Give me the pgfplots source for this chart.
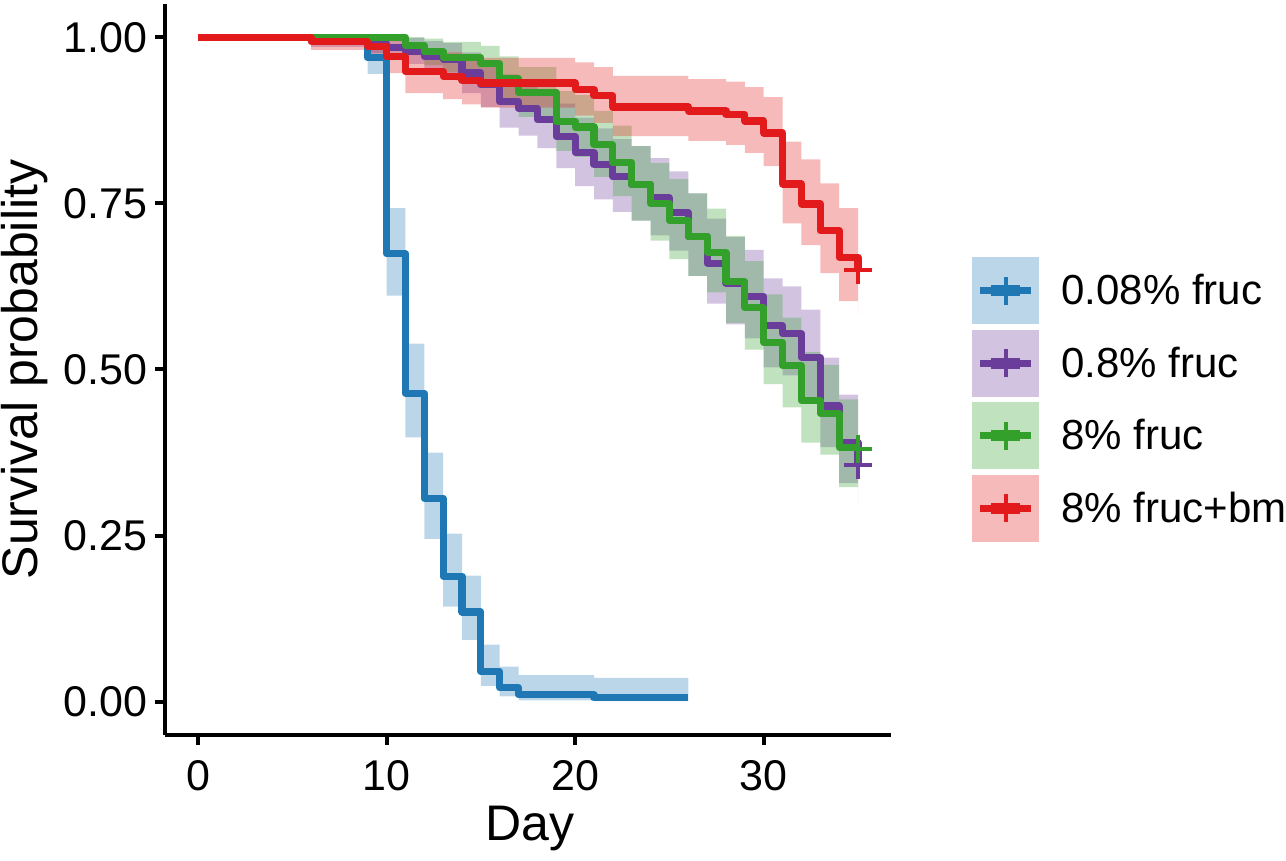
\documentclass[border=0pt]{standalone}
\usepackage{fontspec}
\setmainfont{Liberation Sans}
\usepackage{pgfplots}
\pgfplotsset{compat=1.18}
\usepackage{pgfplotstable}
\usepgfplotslibrary{fillbetween}
\definecolor{cB}{HTML}{1F78B4}
\definecolor{cP}{HTML}{6A3D9A}
\definecolor{cG}{HTML}{33A02C}
\definecolor{cR}{HTML}{E31A1C}
\pgfplotstableread{
t s lo hi
0 1 1 1
9 0.969 0.945 0.994
10 0.674 0.611 0.743
11 0.464 0.398 0.539
12 0.306 0.245 0.375
13 0.189 0.143 0.253
14 0.135 0.093 0.190
15 0.046 0.024 0.086
16 0.021 0.008 0.053
17 0.0105 0.002 0.040
21 0.006 0.001 0.036
26 0.006 0.001 0.036
}\tabB
\pgfplotstableread{
t s lo hi
0 1 1 1
6 0.995 0.9855 1
9 0.990 0.9766 1
10 0.985 0.9687 1
11 0.979 0.960 0.999
12 0.971 0.949 0.994
13 0.966 0.942 0.991
14 0.946 0.916 0.977
15 0.929 0.895 0.964
16 0.903 0.864 0.944
17 0.893 0.852 0.936
18 0.876 0.833 0.922
19 0.850 0.803 0.900
20 0.826 0.776 0.879
21 0.808 0.756 0.863
22 0.790 0.737 0.847
23 0.778 0.724 0.836
24 0.758 0.702 0.818
25 0.736 0.679 0.798
26 0.700 0.641 0.765
27 0.660 0.599 0.727
28 0.630 0.568 0.699
29 0.610 0.547 0.680
30 0.566 0.503 0.637
31 0.554 0.491 0.625
32 0.518 0.455 0.590
33 0.445 0.383 0.518
34 0.390 0.329 0.462
35 0.357 0.298 0.428
}\tabP
\pgfplotstableread{
t s lo hi
0 1 1 1
11 0.988 0.973 1
12 0.978 0.958 0.998
13 0.970 0.947 0.993
15 0.960 0.934 0.987
16 0.938 0.906 0.971
17 0.917 0.880 0.955
19 0.873 0.829 0.919
20 0.865 0.820 0.913
21 0.838 0.790 0.889
22 0.812 0.761 0.867
23 0.778 0.724 0.836
24 0.750 0.694 0.811
25 0.724 0.666 0.787
26 0.700 0.641 0.765
27 0.676 0.616 0.742
28 0.632 0.570 0.701
29 0.593 0.530 0.663
30 0.541 0.478 0.613
31 0.506 0.443 0.578
32 0.453 0.390 0.526
33 0.434 0.372 0.507
34 0.383 0.323 0.455
35 0.383 0.323 0.455
}\tabG
\pgfplotstableread{
t s lo hi
0 1 1 1
6 0.993 0.981 1
9 0.986 0.969 1
10 0.971 0.946 0.996
11 0.948 0.916 0.981
13 0.941 0.907 0.977
14 0.935 0.899 0.972
15 0.931 0.894 0.969
20 0.921 0.882 0.962
21 0.912 0.871 0.955
22 0.895 0.851 0.942
26 0.889 0.844 0.937
28 0.884 0.838 0.933
29 0.874 0.826 0.925
30 0.856 0.806 0.910
31 0.779 0.720 0.843
32 0.749 0.687 0.816
33 0.709 0.645 0.780
34 0.669 0.603 0.743
35 0.650 0.583 0.725
}\tabR
\pgfplotstableread{
t s
35 0.357
}\cenP
\pgfplotstableread{
t s
35 0.381
}\cenG
\pgfplotstableread{
t s
35 0.650
}\cenR
\newcommand{\keyimg}[1]{%
  \path[fill=#1, fill opacity=0.3, draw=none] (0pt,-16.75pt) rectangle (33.5pt,16.75pt);
  \path[draw=#1, line width=3.6pt] (4pt,0pt) -- (29.5pt,0pt);
  \path[draw=#1, line width=5.5pt] (9.5pt,0pt) -- (24pt,0pt);
  \path[draw=#1, line width=1.6pt] (16.75pt,-7pt) -- (16.75pt,7pt);}
\begin{document}
\begin{tikzpicture}
\begin{axis}[
  at={(82.5pt,63pt)}, anchor=south west,
  scale only axis, width=363pt, height=365.5pt,
  xmin=-1.75, xmax=36.75, ymin=-0.05, ymax=1.05,
  axis lines=left,
  axis line style={-, line width=2pt, black},
  tick align=outside,
  major tick length=5pt,
  tick style={line width=2pt, black},
  xtick={0,10,20,30},
  ytick={0,0.25,0.5,0.75,1},
  yticklabels={0.00,0.25,0.50,0.75,1.00},
  /pgf/number format/assume math mode=true,
  tick label style={font=\fontsize{21.5}{24}\selectfont, inner sep=0pt},
  xticklabel style={anchor=north, yshift=-7.5pt},
  yticklabel style={anchor=east, xshift=-3.5pt},
  xlabel={Day},
  ylabel={Survival probability},
  label style={font=\fontsize{25}{30}\selectfont},
  xlabel style={at={(axis description cs:0.503,0)}, anchor=center, yshift=-46.5pt},
  ylabel style={at={(axis description cs:-0.193,0.5)}, anchor=center, rotate=0},
  legend style={at={(axis description cs:1.1116,0.4588)}, anchor=west,
    draw=none, fill=none, inner sep=0pt, column sep=11pt, row sep=2.75pt,
    nodes={inner sep=0pt}, font=\fontsize{21}{24}\selectfont},
  legend cell align=left,
  every axis plot/.append style={line join=round},
]
% survival curves
\addplot[const plot, cB, line width=3.6pt, forget plot] table[x=t,y=s]{\tabB};
\addplot[const plot, cP, line width=3.6pt, forget plot] table[x=t,y=s]{\tabP};
\addplot[const plot, cG, line width=3.6pt, forget plot] table[x=t,y=s]{\tabG};
\addplot[const plot, cR, line width=3.6pt, forget plot] table[x=t,y=s]{\tabR};
% confidence bands
\addplot[const plot, draw=none, name path=Bhi, forget plot] table[x=t,y=hi]{\tabB};
\addplot[const plot, draw=none, name path=Blo, forget plot] table[x=t,y=lo]{\tabB};
\addplot[fill=cB, fill opacity=0.3, draw=none, forget plot] fill between[of=Bhi and Blo];
\addplot[const plot, draw=none, name path=Phi, forget plot] table[x=t,y=hi]{\tabP};
\addplot[const plot, draw=none, name path=Plo, forget plot] table[x=t,y=lo]{\tabP};
\addplot[fill=cP, fill opacity=0.3, draw=none, forget plot] fill between[of=Phi and Plo];
\addplot[const plot, draw=none, name path=Ghi, forget plot] table[x=t,y=hi]{\tabG};
\addplot[const plot, draw=none, name path=Glo, forget plot] table[x=t,y=lo]{\tabG};
\addplot[fill=cG, fill opacity=0.3, draw=none, forget plot] fill between[of=Ghi and Glo];
\addplot[const plot, draw=none, name path=Rhi, forget plot] table[x=t,y=hi]{\tabR};
\addplot[const plot, draw=none, name path=Rlo, forget plot] table[x=t,y=lo]{\tabR};
\addplot[fill=cR, fill opacity=0.3, draw=none, forget plot] fill between[of=Rhi and Rlo];
% censor marks
\addplot[only marks, mark=+, mark size=7pt, cP, mark options={line width=2pt}, forget plot] table[x=t,y=s]{\cenP};
\addplot[only marks, mark=+, mark size=7pt, cG, mark options={line width=2pt}, forget plot] table[x=t,y=s]{\cenG};
\addplot[only marks, mark=+, mark size=7pt, cR, mark options={line width=2pt}, forget plot] table[x=t,y=s]{\cenR};
% legend
\addlegendimage{draw=none, legend image code/.code={\keyimg{cB}}}
\addlegendentry{0.08\% fruc}
\addlegendimage{draw=none, legend image code/.code={\keyimg{cP}}}
\addlegendentry{0.8\% fruc}
\addlegendimage{draw=none, legend image code/.code={\keyimg{cG}}}
\addlegendentry{8\% fruc}
\addlegendimage{draw=none, legend image code/.code={\keyimg{cR}}}
\addlegendentry{8\% fruc+bm}
\end{axis}
\pgfresetboundingbox
\useasboundingbox (0,0) rectangle (643pt,430.5pt);
\end{tikzpicture}
\end{document}
